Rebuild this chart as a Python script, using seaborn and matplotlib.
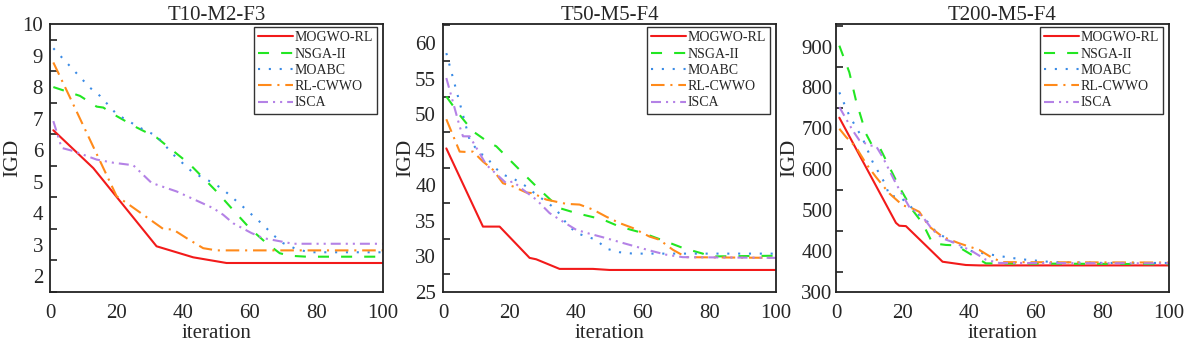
import numpy as np
import pandas as pd
import matplotlib
matplotlib.use("Agg")
import matplotlib.pyplot as plt
from matplotlib.ticker import MultipleLocator
import seaborn as sns

ALGOS = ["MOGWO-RL", "NSGA-II", "MOABC", "RL-CWWO", "ISCA"]
TITLES = ["T10-M2-F3", "T50-M5-F4", "T200-M5-F4"]

# ---- Panel 1: T10-M2-F3 ----
P1_MOGWO_X = [1, 13, 32, 43, 53, 100]
P1_MOGWO_Y = [6.63, 5.43, 2.95, 2.6, 2.42, 2.42]
P1_NSGA_X = [1, 9, 14, 16, 20, 26, 32, 42, 50, 55, 60, 65, 69, 72, 77, 100]
P1_NSGA_Y = [8.0, 7.72, 7.38, 7.35, 7.08, 6.72, 6.4, 5.55, 4.69, 4.1, 3.52, 3.05, 2.73, 2.65, 2.62, 2.62]
P1_MOABC_X = [1, 12, 15, 20, 27, 32, 37, 43, 49, 52, 58, 64, 67, 70, 74, 78, 100]
P1_MOABC_Y = [9.23, 7.98, 7.72, 7.14, 6.71, 6.45, 5.86, 5.28, 4.96, 4.75, 4.2, 3.63, 3.31, 3.05, 2.86, 2.76, 2.76]
P1_RLCWWO_X = [1, 6, 20, 24, 34, 37, 41, 46, 50, 100]
P1_RLCWWO_Y = [8.78, 7.67, 4.54, 4.25, 3.5, 3.48, 3.21, 2.89, 2.82, 2.82]
P1_ISCA_X = [1, 3.5, 7, 14, 19, 25, 30.5, 38, 49, 52, 55, 60.5, 64, 69.5, 73, 100]
P1_ISCA_Y = [6.92, 6.07, 5.97, 5.7, 5.6, 5.52, 4.96, 4.69, 4.16, 3.95, 3.68, 3.37, 3.21, 3.1, 3.03, 3.03]

# ---- Panel 2: T50-M5-F4 ----
P2_MOGWO_X = [1, 12, 17, 26, 28, 35, 45, 50, 100]
P2_MOGWO_Y = [45.2, 34.2, 34.2, 29.8, 29.6, 28.25, 28.25, 28.1, 28.1]
P2_NSGA_X = [1, 5, 9, 14, 16, 20, 25, 29, 35, 40, 48, 53, 60, 67, 72, 78, 80, 100]
P2_NSGA_Y = [52.5, 49.9, 47.6, 45.95, 45.5, 43.6, 41.25, 39.4, 36.8, 36.1, 35.2, 34.2, 33.3, 32.1, 31.2, 30.4, 30.0, 30.1]
P2_MOABC_X = [1, 8, 11, 13, 15, 18, 21, 25, 28, 31, 34, 37, 40, 46, 49, 53, 57, 100]
P2_MOABC_Y = [58.6, 46.4, 44.5, 44.1, 42.75, 41.5, 41.0, 39.85, 38.7, 37.7, 36.6, 34.7, 33.3, 32.35, 31.1, 30.6, 30.4, 30.4]
P2_RLCWWO_X = [1, 5, 7, 9, 12, 15, 18, 21, 25, 27, 31, 37, 41, 45, 49, 53, 57, 62, 65, 69, 73, 100]
P2_RLCWWO_Y = [49.3, 44.75, 44.7, 44.75, 43.35, 42.2, 40.3, 39.85, 39.0, 38.9, 38.0, 37.4, 37.3, 36.6, 35.6, 34.7, 34.0, 32.8, 32.35, 30.95, 29.9, 29.8]
P2_ISCA_X = [1, 5, 6, 8, 13, 19, 21, 24, 28, 32, 36, 40, 44, 48, 54, 62, 67, 72, 100]
P2_ISCA_Y = [55.1, 48.3, 46.9, 46.9, 42.9, 40.3, 40.55, 39.4, 38.0, 36.1, 34.9, 33.75, 33.2, 32.7, 31.9, 30.85, 30.25, 29.9, 29.8]

# ---- Panel 3: T200-M5-F4 ----
P3_MOGWO_X = [1, 18, 19, 21, 32, 39, 43, 100]
P3_MOGWO_Y = [726, 469, 462, 461, 374, 366, 365, 365]
P3_NSGA_X = [1, 4, 6, 9, 11, 13, 16, 19, 23, 26, 29, 33, 36, 45, 100]
P3_NSGA_Y = [902, 837, 768, 687, 656, 655, 606, 557, 500, 468, 419, 415, 414, 370, 368]
P3_MOABC_X = [1, 4, 8, 11, 15, 16, 19, 22, 25, 28, 30, 34, 37, 41, 49, 53, 57, 61, 65, 81, 100]
P3_MOABC_Y = [788, 731, 675, 618, 561, 534, 534, 512, 488, 468, 447, 427, 411, 399, 388, 383, 379, 376, 373, 371, 371]
P3_RLCWWO_X = [1, 3, 6, 9, 12, 16, 20, 23, 25, 28, 32, 37, 43, 47, 50, 100]
P3_RLCWWO_Y = [699, 679, 654, 614, 581, 541, 512, 504, 496, 460, 435, 419, 403, 383, 373, 372]
P3_ISCA_X = [1, 5, 7, 10, 12, 14, 18, 22, 26, 29, 32, 36, 41, 45, 49, 100]
P3_ISCA_Y = [752, 695, 671, 658, 657, 630, 565, 508, 484, 452, 431, 419, 399, 379, 371, 370]

PANELS = [
    [(P1_MOGWO_X, P1_MOGWO_Y), (P1_NSGA_X, P1_NSGA_Y), (P1_MOABC_X, P1_MOABC_Y),
     (P1_RLCWWO_X, P1_RLCWWO_Y), (P1_ISCA_X, P1_ISCA_Y)],
    [(P2_MOGWO_X, P2_MOGWO_Y), (P2_NSGA_X, P2_NSGA_Y), (P2_MOABC_X, P2_MOABC_Y),
     (P2_RLCWWO_X, P2_RLCWWO_Y), (P2_ISCA_X, P2_ISCA_Y)],
    [(P3_MOGWO_X, P3_MOGWO_Y), (P3_NSGA_X, P3_NSGA_Y), (P3_MOABC_X, P3_MOABC_Y),
     (P3_RLCWWO_X, P3_RLCWWO_Y), (P3_ISCA_X, P3_ISCA_Y)],
]
YLIMS = [(1.5, 10.0), (25, 62.7), (300, 955)]
YMAJOR = [1, 5, 100]
YMINOR = [0.5, 2.5, 50]

sns.set_style("white")
plt.rcParams["font.family"] = ["Liberation Serif", "DejaVu Serif"]
plt.rcParams["mathtext.fontset"] = "stix"

palette = {"MOGWO-RL": "#f21a1a", "NSGA-II": "#22e622", "MOABC": "#3a8be6",
           "RL-CWWO": "#ff8a1a", "ISCA": "#b482e6"}
dashes = {"MOGWO-RL": "", "NSGA-II": (5.3, 5.8), "MOABC": (1.0, 4.2),
          "RL-CWWO": (6.5, 2.8, 1.0, 2.8), "ISCA": (4.8, 2.4, 1.0, 2.4, 1.0, 2.4)}

W, H = 1187, 345
fig = plt.figure(figsize=(W / 100, H / 100), dpi=100)
lefts = [50, 443, 836]
ylabel_x = [-0.085, -0.085, -0.112]
ytick_pad = [5, 5, 2.5]
AX_W, AX_H = 333, 268
for i, left in enumerate(lefts):
    ax = fig.add_axes([left / W, (H - 292) / H, AX_W / W, AX_H / H])
    rows = []
    for algo, (xs, ys) in zip(ALGOS, PANELS[i]):
        for xv, yv in zip(xs, ys):
            rows.append({"iteration": xv, "IGD": yv, "algo": algo})
    df = pd.DataFrame(rows)
    sns.lineplot(data=df, x="iteration", y="IGD", hue="algo", style="algo",
                 hue_order=ALGOS, style_order=ALGOS, palette=palette,
                 dashes=dashes, estimator=None, sort=False, linewidth=1.5,
                 ax=ax)
    ax.set_xlim(0, 100)
    ax.set_ylim(*YLIMS[i])
    ax.xaxis.set_major_locator(MultipleLocator(20))
    ax.yaxis.set_major_locator(MultipleLocator(YMAJOR[i]))
    ax.yaxis.set_minor_locator(MultipleLocator(YMINOR[i]))
    ax.tick_params(axis="both", which="both", direction="in", length=5,
                   width=1.2, color="#222222", labelsize=15)
    ax.tick_params(axis="x", which="major", pad=9)
    ax.tick_params(axis="y", which="major", pad=ytick_pad[i])
    ax.tick_params(axis="x", which="minor", bottom=False)
    ax.tick_params(axis="y", which="minor", left=True)
    for sp in ax.spines.values():
        sp.set_color("#222222")
        sp.set_linewidth(1.3)
    ax.set_title(TITLES[i], fontsize=15, pad=3)
    ax.set_xlabel("iteration", fontsize=15, labelpad=0)
    ax.set_ylabel("IGD", fontsize=15.5)
    ax.yaxis.set_label_coords(ylabel_x[i], 0.5)
    handles, labels = ax.get_legend_handles_labels()
    if ax.get_legend() is not None:
        ax.get_legend().remove()
    leg = ax.legend(handles, labels, loc="upper right",
                    bbox_to_anchor=(1 - 6 / AX_W, 1 - 3 / AX_H),
                    fontsize=10, frameon=True, fancybox=False,
                    edgecolor="#333333", framealpha=1, handlelength=2.5,
                    handletextpad=0.1, labelspacing=0.24, borderpad=0.3,
                    borderaxespad=0.0)
    leg.get_frame().set_linewidth(1.0)

fig.savefig("out.png", dpi=100)
